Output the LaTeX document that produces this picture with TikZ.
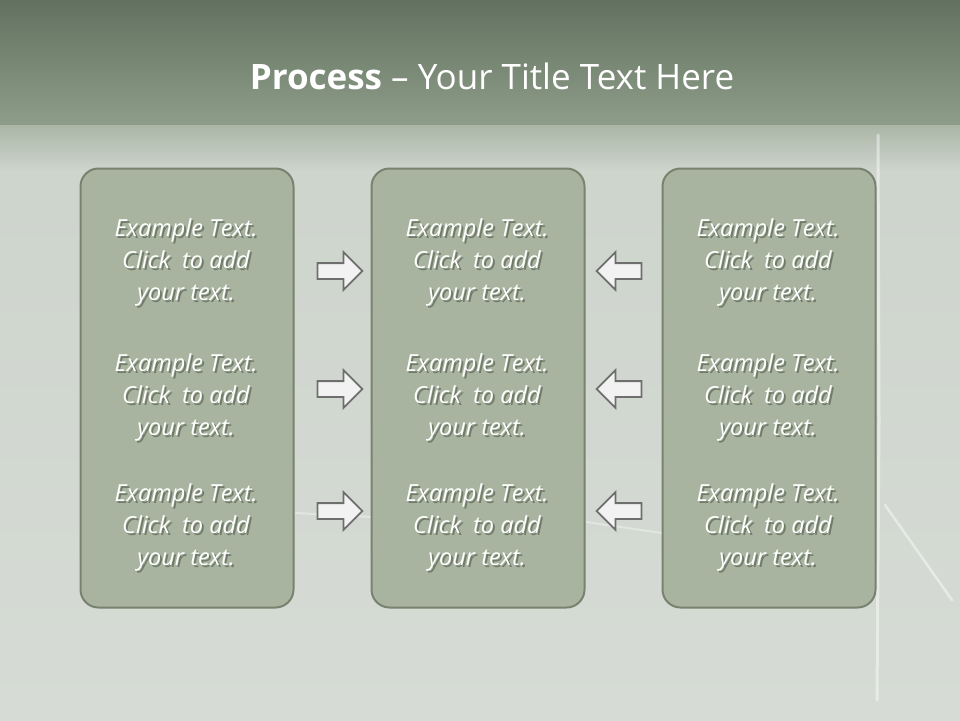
\documentclass[tikz,border=0pt]{standalone}
\usepackage{fontspec}
\setmainfont{Open Sans}
\usetikzlibrary{shapes.arrows}
\definecolor{bgA}{HTML}{CDD4CC}
\definecolor{bgB}{HTML}{D6DCD5}
\definecolor{barTop}{HTML}{637260}
\definecolor{barBot}{HTML}{8E9D89}
\definecolor{bandTop}{HTML}{AAB6A6}
\definecolor{boxFill}{HTML}{A8B4A0}
\definecolor{boxLine}{HTML}{78826F}
\definecolor{arrFill}{HTML}{F2F2F2}
\definecolor{arrLine}{HTML}{6E6E6E}
\definecolor{shadowCol}{HTML}{707B69}
\tikzset{
  panel/.style={draw=boxLine, line width=2pt, fill=boxFill, rounded corners=18pt},
  blockarrow/.style={single arrow, draw=arrLine, fill=arrFill, line width=1.8pt,
     minimum height=45pt, single arrow head extend=11pt, inner sep=7pt,
     single arrow tip angle=90, text width=0pt, anchor=center},
  chalk/.style={draw=white, line cap=round},
  txt/.style={align=center, font=\fontsize{23.5}{32}\selectfont\itshape, text=white, inner sep=0pt}
}
\newcommand{\shtxt}[1]{\makebox[0pt][l]{\hspace{2pt}\raisebox{-2.5pt}{\color{shadowCol}\begin{tabular}{@{}c@{}}#1\end{tabular}}}\begin{tabular}{@{}c@{}}#1\end{tabular}}
\newcommand{\exampletext}{\shtxt{Example Text.\\ Click\ \ to add\\ your text.}}
\begin{document}
\begin{tikzpicture}[x=1pt,y=-1pt]
\useasboundingbox (0,0) rectangle (960,720);
% background
\shade[top color=bgA, bottom color=bgB] (0,125) rectangle (960,720);
\shade[top color=barTop, bottom color=barBot] (0,0) rectangle (960,125);
\shade[top color=bandTop, bottom color=bgA] (0,125) rectangle (960,170);
% chalk marks
\draw[chalk, line width=3pt, opacity=0.45] (878,135) -- (879,420) -- (877,700);
\draw[chalk, line width=2.5pt, opacity=0.45] (885,505) -- (952,600);
\draw[chalk, line width=2pt, opacity=0.35] (296,513) -- (372,517);
\draw[chalk, line width=2pt, opacity=0.35] (586,522) -- (662,533);
% title
\node[text=white, font=\fontsize{35}{40}\selectfont] (title) at (492,76)
  {\textbf{Process} -- Your Title Text Here};
% panels
\node[panel, minimum width=213pt, minimum height=439pt] (L) at (187,388) {};
\node[panel, minimum width=213pt, minimum height=439pt] (M) at (478,388) {};
\node[panel, minimum width=213pt, minimum height=439pt] (R) at (769,388) {};
% texts
\foreach \cx/\nm in {186/l,477/m,768/r}{
  \foreach \cy/\k in {263/1,398/2,528/3}{
    \node[txt] (\nm\k) at (\cx,\cy) {\exampletext};
  }
}
% arrows
\foreach \cy/\k in {271/1,389/2,511/3}{
  \node[blockarrow] (ra\k) at (336,\cy) {};
  \node[blockarrow, shape border rotate=180] (la\k) at (623,\cy) {};
}
\end{tikzpicture}
\end{document}
